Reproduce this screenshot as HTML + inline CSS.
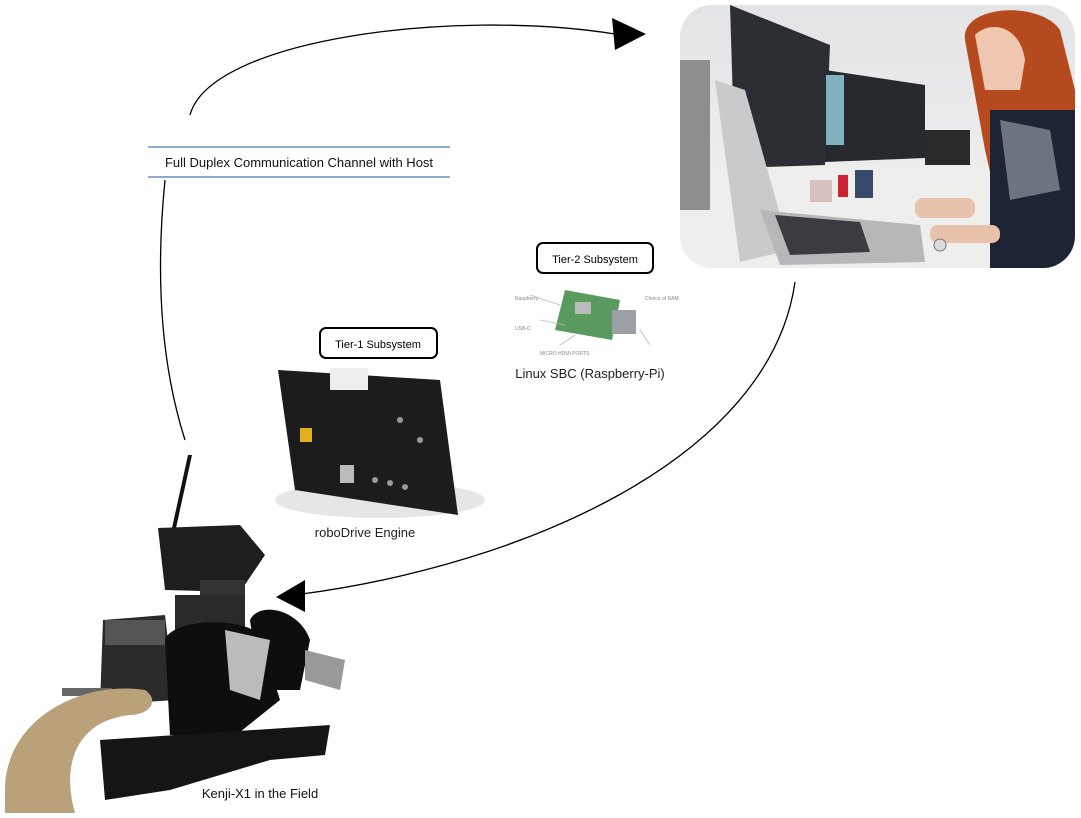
<!DOCTYPE html>
<html><head><style>
body{margin:0;background:#fff;width:1081px;height:813px;overflow:hidden;font-family:"Liberation Sans",sans-serif}
</style></head><body>
<svg width="1081" height="813" viewBox="0 0 1081 813" xmlns="http://www.w3.org/2000/svg" font-family="Liberation Sans, sans-serif">
<defs>
<clipPath id="ph"><rect x="680" y="5" width="395" height="263" rx="32"/></clipPath>
<linearGradient id="bg" x1="0" y1="0" x2="0" y2="1"><stop offset="0" stop-color="#e4e4e6"/><stop offset="1" stop-color="#f2f2f2"/></linearGradient>
</defs>
<g clip-path="url(#ph)">
<rect x="680" y="5" width="395" height="263" fill="url(#bg)"/>
<rect x="680" y="165" width="320" height="103" fill="#eeeeec"/>
<polygon points="730,5 830,45 825,165 735,168" fill="#2b2f33"/>
<polygon points="825,70 925,85 925,158 825,162" fill="#262a2e"/>
<rect x="826" y="75" width="18" height="70" fill="#7fb3c0"/>
<rect x="925" y="130" width="45" height="35" fill="#2a2a2a"/>
<polygon points="715,80 745,90 790,250 740,262" fill="#c8cacc"/>
<polygon points="760,210 920,225 925,262 780,265" fill="#b5b7b9"/>
<polygon points="775,215 860,222 870,252 790,255" fill="#3a3c40"/>
<rect x="680" y="60" width="30" height="150" fill="#8c8e90"/>
<path d="M965,40 C960,5 1040,0 1060,30 L1075,90 L1075,200 L1000,215 L985,150 Z" fill="#b54a1e"/>
<path d="M975,35 C990,20 1020,25 1025,60 L1020,90 L985,90 Z" fill="#efc7b0"/>
<path d="M990,110 L1075,110 L1075,268 L990,268 Z" fill="#1e2433"/>
<path d="M1000,120 L1050,130 L1060,190 L1010,200 Z" fill="#6e7380"/>
<rect x="915" y="198" width="60" height="20" fill="#e8c2ab" rx="8"/>
<rect x="930" y="225" width="70" height="18" fill="#e8c2ab" rx="8"/>
<circle cx="940" cy="245" r="6" fill="#ddd" stroke="#777"/>
<rect x="855" y="170" width="18" height="28" fill="#3a4a6a"/>
<rect x="838" y="175" width="10" height="22" fill="#c23"/>
<rect x="810" y="180" width="22" height="22" fill="#d9c0c0"/>
</g>
<path d="M190,115 C210,40 450,8 615,34" fill="none" stroke="#000" stroke-width="1.3"/>
<polygon points="612,18 646,34 615,50" fill="#000"/>
<path d="M165,180 Q150,330 185,440" fill="none" stroke="#000" stroke-width="1.3"/>
<path d="M795,282 C770,460 520,565 302,594" fill="none" stroke="#000" stroke-width="1.3"/>
<polygon points="276,597 305,580 305,612" fill="#000"/>
<line x1="148" y1="147" x2="450" y2="147" stroke="#4a7ab8" stroke-width="1.3"/>
<line x1="148" y1="177" x2="450" y2="177" stroke="#4a7ab8" stroke-width="1.3"/>
<text x="299" y="167" font-size="13" text-anchor="middle" fill="#111">Full Duplex Communication Channel with Host</text>
<rect x="537" y="243" width="116" height="30" rx="6" fill="#fff" stroke="#000" stroke-width="2"/>
<text x="595" y="263" font-size="11" text-anchor="middle">Tier-2 Subsystem</text>
<rect x="320" y="328" width="117" height="30" rx="6" fill="#fff" stroke="#000" stroke-width="2"/>
<text x="378" y="348" font-size="11" text-anchor="middle">Tier-1 Subsystem</text>
<polygon points="565,290 620,300 612,340 555,330" fill="#5b9a5e"/>
<rect x="612" y="310" width="24" height="24" fill="#9aa0a6"/>
<rect x="575" y="302" width="16" height="12" fill="#bbb"/>
<g stroke="#bbb" stroke-width="0.8"><line x1="530" y1="295" x2="560" y2="305"/><line x1="540" y1="320" x2="565" y2="325"/><line x1="560" y1="345" x2="575" y2="335"/><line x1="640" y1="330" x2="650" y2="345"/></g>
<g font-size="5" fill="#888"><text x="515" y="300">Raspberry</text><text x="515" y="330">USB-C</text><text x="540" y="355">MICRO HDMI PORTS</text><text x="645" y="300">Choice of RAM</text></g>
<text x="590" y="378" font-size="13" text-anchor="middle" fill="#222">Linux SBC (Raspberry-Pi)</text>
<ellipse cx="380" cy="500" rx="105" ry="18" fill="#e6e6e6"/>
<polygon points="278,370 440,380 458,515 295,490" fill="#1c1c1c"/>
<rect x="330" y="368" width="38" height="22" fill="#eee"/>
<rect x="340" y="465" width="14" height="18" fill="#bbb"/>
<rect x="300" y="428" width="12" height="14" fill="#e0b020"/>
<g fill="#999"><circle cx="375" cy="480" r="3"/><circle cx="390" cy="483" r="3"/><circle cx="405" cy="487" r="3"/><circle cx="420" cy="440" r="3"/><circle cx="400" cy="420" r="3"/></g>
<text x="365" y="537" font-size="13" text-anchor="middle" fill="#222">roboDrive Engine</text>
<polygon points="188,455 192,455 176,528 172,528" fill="#111"/>
<polygon points="158,528 240,525 265,555 240,592 165,590" fill="#1e1e1e"/>
<rect x="200" y="580" width="45" height="20" fill="#333"/>
<rect x="175" y="595" width="70" height="35" fill="#2a2a2a"/>
<polygon points="103,620 165,615 175,700 100,705" fill="#2b2b2b"/>
<rect x="105" y="620" width="60" height="25" fill="#555"/>
<path d="M165,640 C170,620 240,615 260,635 L280,700 L230,740 L170,735 Z" fill="#0e0e0e"/>
<path d="M250,620 C260,600 300,610 310,640 L300,690 L260,690 Z" fill="#0e0e0e"/>
<polygon points="225,630 270,640 260,700 230,690" fill="#bbb"/>
<polygon points="305,650 345,660 340,690 305,680" fill="#999"/>
<rect x="62" y="688" width="50" height="8" fill="#666"/>
<path d="M100,740 L330,725 L325,755 L270,760 L170,790 L105,800 Z" fill="#151515"/>
<path d="M5,790 C5,720 80,680 145,690 C160,700 150,715 130,715 C80,720 60,760 75,813 L5,813 Z" fill="#b9a17a"/>
<text x="260" y="798" font-size="13" text-anchor="middle" fill="#111">Kenji-X1 in the Field</text>
</svg>
</body></html>
